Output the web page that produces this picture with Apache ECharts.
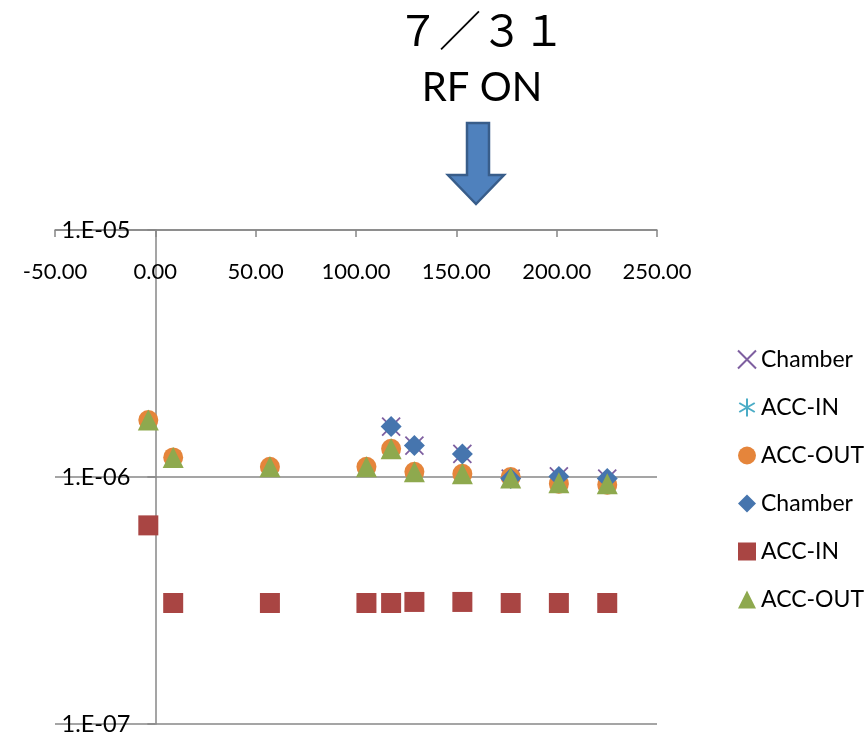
<!DOCTYPE html>
<html>
<head>
<meta charset="utf-8">
<script src="https://cdn.jsdelivr.net/npm/echarts@6/dist/echarts.min.js"></script>
<style>
html,body{margin:0;padding:0;background:#fff;}
#chart{width:865px;height:735px;}
</style>
</head>
<body>
<div id="chart"></div>
<script>
// ---- data ----
const xValues = [-3.5, 8.9, 57.1, 105.2, 117.5, 129.1, 153.0, 177.1, 201.1, 225.2];
const chamberValues = [null, null, null, null, 1.60e-6, 1.34e-6, 1.24e-6, 9.85e-7, 1.005e-6, 9.85e-7];
const accInValues  = [6.37e-7, 3.09e-7, 3.09e-7, 3.09e-7, 3.09e-7, 3.12e-7, 3.12e-7, 3.09e-7, 3.09e-7, 3.09e-7];
const accOutCircle = [1.70e-6, 1.20e-6, 1.10e-6, 1.10e-6, 1.30e-6, 1.05e-6, 1.03e-6, 1.00e-6, 9.40e-7, 9.30e-7];
const accOutTriangle = [1.70e-6, 1.20e-6, 1.10e-6, 1.10e-6, 1.30e-6, 1.05e-6, 1.03e-6, 9.90e-7, 9.47e-7, 9.40e-7];
const seriesNames = ['Chamber', 'ACC-IN', 'ACC-OUT', 'Chamber', 'ACC-IN', 'ACC-OUT'];
const xTickLabels = ['-50.00', '0.00', '50.00', '100.00', '150.00', '200.00', '250.00'];
const xTickValues = [-50, 0, 50, 100, 150, 200, 250];
const yTickLabels = ['1.E-07', '1.E-06', '1.E-05'];
const yTickExponents = [-7, -6, -5];
const titleText = '７／３１';
const subtitleText = 'RF ON';

function pairs(vals) {
  const out = [];
  for (let i = 0; i < xValues.length; i++) {
    if (vals[i] != null) out.push([xValues[i], vals[i]]);
  }
  return out;
}

const FONT = 'Lato';
const AXIS_COLOR = '#878787';
const GRID_LEFT = 55, GRID_RIGHT = 208;
const X_MIN = -50, X_MAX = 250;
const gridWidth = 865 - GRID_LEFT - GRID_RIGHT;
const yAxisOffset = -((0 - X_MIN) / (X_MAX - X_MIN)) * gridWidth;

const xPath = 'path://M0,0L10,10M10,0L0,10';
const starPath = 'path://M5,0L5,10M0.7,2.5L9.3,7.5M9.3,2.5L0.7,7.5';

const uniq = (i) => seriesNames[i] + '_' + i;

const chart = echarts.init(document.getElementById('chart'), null, {renderer: 'canvas'});
const option = {
  animation: false,
  backgroundColor: '#ffffff',
  grid: {left: GRID_LEFT, right: GRID_RIGHT, top: 230, bottom: 11, containLabel: false, outerBoundsMode: 'none'},
  xAxis: {
    type: 'value', min: X_MIN, max: X_MAX, interval: 50, position: 'top',
    axisLine: {onZero: false, lineStyle: {color: AXIS_COLOR, width: 1.5}},
    axisTick: {inside: true, length: 7, lineStyle: {color: AXIS_COLOR, width: 1.5}},
    axisLabel: {
      inside: true, margin: 31, color: '#000', fontFamily: FONT, fontSize: 22,
      formatter: (v) => { const k = xTickValues.indexOf(v); return k >= 0 ? xTickLabels[k] : ''; }
    },
    splitLine: {show: false}
  },
  yAxis: {
    type: 'log', logBase: 10, min: 1e-7, max: 1e-5, position: 'left', offset: yAxisOffset,
    axisLine: {onZero: false, lineStyle: {color: AXIS_COLOR, width: 1.5}},
    axisTick: {inside: false, length: 8, lineStyle: {color: AXIS_COLOR, width: 1.5}},
    axisLabel: {
      margin: 25, color: '#000', fontFamily: FONT, fontSize: 23.5,
      formatter: (v) => { const e = Math.round(Math.log10(v)); const k = yTickExponents.indexOf(e); return k >= 0 ? yTickLabels[k] : ''; }
    },
    splitLine: {show: true, lineStyle: {color: AXIS_COLOR, width: 1.5}},
    minorTick: {show: false}
  },
  legend: {
    orient: 'vertical', left: 732, top: 343,
    itemWidth: 18, itemHeight: 18, itemGap: 25,
    textStyle: {color: '#000', fontFamily: FONT, fontSize: 23},
    formatter: (name) => name.replace(/_\d+$/, ''),
    data: seriesNames.map((n, i) => uniq(i))
  },
  series: [
    {name: uniq(0), type: 'scatter', data: pairs(chamberValues), symbol: xPath, symbolSize: 18,
     itemStyle: {color: 'rgba(0,0,0,0)', borderColor: '#7E5FA0', borderWidth: 1.8, opacity: 1}},
    {name: uniq(1), type: 'scatter', data: pairs(accInValues), symbol: starPath, symbolSize: 18,
     itemStyle: {color: 'rgba(0,0,0,0)', borderColor: '#4BACC6', borderWidth: 1.8, opacity: 1}},
    {name: uniq(2), type: 'scatter', data: pairs(accOutCircle), symbol: 'circle', symbolSize: 20,
     itemStyle: {color: '#E5853B', opacity: 1}},
    {name: uniq(3), type: 'scatter', data: pairs(chamberValues), symbol: 'diamond', symbolSize: 21,
     itemStyle: {color: '#4675AE', opacity: 1}},
    {name: uniq(4), type: 'scatter', data: pairs(accInValues), symbol: 'rect', symbolSize: 20,
     itemStyle: {color: '#A94543', opacity: 1}},
    {name: uniq(5), type: 'scatter', data: pairs(accOutTriangle), symbol: 'triangle', symbolSize: 21,
     itemStyle: {color: '#8EA94E', opacity: 1}}
  ],
  graphic: [
    {type: 'text', x: 481, y: 30, style: {text: titleText, fontFamily: '"Noto Sans CJK JP"', fontSize: 42, fill: '#000', textAlign: 'center', textVerticalAlign: 'middle'}},
    {type: 'text', x: 482, y: 88, style: {text: subtitleText, fontFamily: FONT, fontSize: 40, fill: '#000', textAlign: 'center', textVerticalAlign: 'middle'}},
    {type: 'polygon', shape: {points: [[467,123],[489,123],[489,175],[504,175],[476,204],[448,175],[467,175]]},
     style: {fill: '#4F81BD', stroke: '#385D8A', lineWidth: 2.5}}
  ]
};
chart.setOption(option);
</script>
</body>
</html>
